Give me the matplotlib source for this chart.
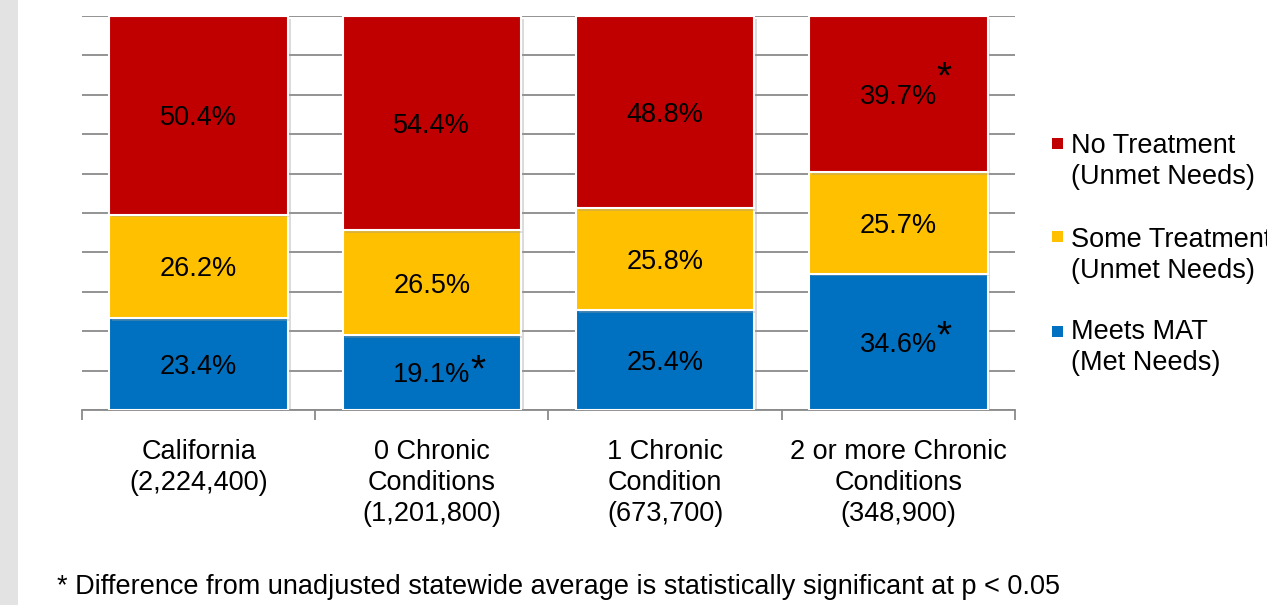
import matplotlib
matplotlib.use("Agg")
import matplotlib.pyplot as plt
import matplotlib.patheffects as pe
from matplotlib.patches import Rectangle
import numpy as np

plt.rcParams['font.family'] = ['Liberation Sans', 'DejaVu Sans']

# ---- data -------------------------------------------------------------
categories = [
    "California\n(2,224,400)",
    "0 Chronic\nConditions\n(1,201,800)",
    "1 Chronic\nCondition\n(673,700)",
    "2 or more Chronic\nConditions\n(348,900)",
]
series_names = [
    "Meets MAT\n(Met Needs)",
    "Some Treatment\n(Unmet Needs)",
    "No Treatment\n(Unmet Needs)",
]
meets_mat = [23.4, 19.1, 25.4, 34.6]
some_treatment = [26.2, 26.5, 25.8, 25.7]
no_treatment = [50.4, 54.4, 48.8, 39.7]
# statistically significant differences (p < 0.05)
meets_sig = [False, True, False, True]
some_sig = [False, False, False, False]
no_sig = [False, False, False, True]
footnote = "* Difference from unadjusted statewide average is statistically significant at p < 0.05"

series = [meets_mat, some_treatment, no_treatment]
sig_flags = [meets_sig, some_sig, no_sig]
colors = ["#0070C0", "#FFC000", "#C00000"]

# ---- styling ----------------------------------------------------------
W, H = 1267, 605
FS = 19.5
LINE = 31          # pixel distance between stacked text lines
GRID = "#8a8a8a"
star_rise = {(0, 1): 1, (0, 3): 5, (2, 3): 16}   # pixel lift of each star

fig = plt.figure(figsize=(W / 100, H / 100), dpi=100)
fig.patches.append(Rectangle((0, 0), 18 / W, 1, transform=fig.transFigure,
                             facecolor="#e3e3e3", edgecolor="none", zorder=0))

ax = fig.add_axes([82 / W, 1 - 410 / H, (1015 - 82) / W, (410 - 16) / H])
x = np.arange(len(categories))
bottom = np.zeros(len(categories))
shadow = [pe.SimplePatchShadow(offset=(2, -2), shadow_rgbFace="#9a9a9a", alpha=0.35),
          pe.Normal()]

for si, (vals, col, flags) in enumerate(zip(series, colors, sig_flags)):
    vals = np.asarray(vals, dtype=float)
    bars = ax.bar(x, vals, width=0.765, bottom=bottom, color=col,
                  edgecolor="white", linewidth=1.5, zorder=3, label=series_names[si])
    for b in bars:
        b.set_path_effects(shadow)
    for ci, (v, bt, flag) in enumerate(zip(vals, bottom, flags)):
        yc = bt + v / 2
        ax.text(x[ci], yc, f"{v:.1f}%", ha="center", va="center_baseline",
                fontsize=FS, color="black", zorder=5)
        if flag:
            ax.annotate("*", xy=(x[ci], yc), xytext=(46, star_rise.get((si, ci), 10)),
                        textcoords="offset pixels", ha="center", va="center",
                        fontsize=28, color="black", zorder=5)
    bottom = bottom + vals

ax.set_xlim(-0.5, len(categories) - 0.5)
ax.set_ylim(0, 100)
ax.set_yticks(np.arange(0, 101, 10))
ax.yaxis.grid(True, color=GRID, linewidth=1.3, zorder=0)
ax.set_axisbelow(True)
ax.tick_params(axis="y", left=False, labelleft=False)

# category names under each bar, one text per line for even spacing
ax.set_xticks(x)
ax.set_xticklabels([])
ax.tick_params(axis="x", which="major", length=0)
ax.set_xticks(np.arange(-0.5, len(categories), 1.0), minor=True)
ax.tick_params(axis="x", which="minor", length=7, width=1.3, color=GRID, direction="out")
for ci, label in enumerate(categories):
    for li, line in enumerate(label.split("\n")):
        ax.annotate(line, xy=(x[ci], 0), xycoords=("data", "axes fraction"),
                    xytext=(0, -(49 + LINE * li)), textcoords="offset pixels",
                    ha="center", va="baseline", fontsize=FS, annotation_clip=False)

for side in ("left", "right", "top"):
    ax.spines[side].set_visible(False)
ax.spines["bottom"].set_color(GRID)
ax.spines["bottom"].set_linewidth(1.3)

# ---- legend (top entry first) -----------------------------------------
legend_rows = [(2, 138, 153), (1, 231, 247), (0, 326, 339)]
for si, sq_top, base in legend_rows:
    fig.patches.append(Rectangle((1052 / W, 1 - (sq_top + 11) / H), 11 / W, 11 / H,
                                 transform=fig.transFigure, facecolor=colors[si],
                                 edgecolor="none"))
    for li, line in enumerate(series_names[si].split("\n")):
        fig.text(1071 / W, 1 - (base + LINE * li) / H, line, ha="left", va="baseline",
                 fontsize=FS)

fig.text(57 / W, 1 - 594 / H, footnote, ha="left", va="baseline", fontsize=FS)

fig.savefig("out.png", dpi=100)
